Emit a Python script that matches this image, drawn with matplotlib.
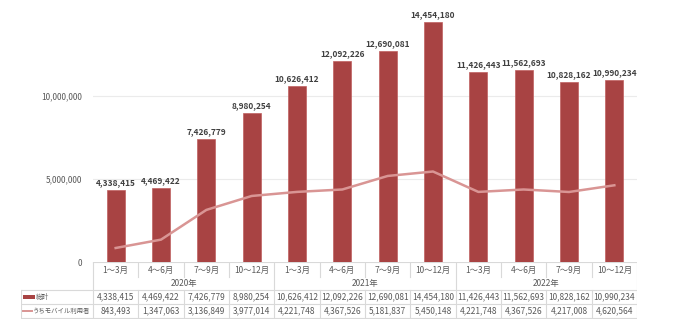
import matplotlib.pyplot as plt
from matplotlib.patches import Rectangle
from matplotlib.lines import Line2D

plt.rcParams['font.family'] = ['Noto Sans CJK JP', 'DejaVu Sans']

quarters = ['1～3月', '4～6月', '7～9月', '10～12月'] * 3
years = ['2020年', '2021年', '2022年']
total = [4338415, 4469422, 7426779, 8980254,
         10626412, 12092226, 12690081, 14454180,
         11426443, 11562693, 10828162, 10990234]
mobile = [843493, 1347063, 3136849, 3977014,
          4221748, 4367526, 5181837, 5450148,
          4221748, 4367526, 4217008, 4620564]
series_names = ['総計', 'うちモバイル利用者']
yticks = [0, 5000000, 10000000]

BAR = '#A84343'
LINE = '#D99594'
GRID = '#D9D9D9'
TXT = '#595959'

W, H = 675, 328
fig = plt.figure(figsize=(W / 100, H / 100), dpi=100)

# chart area in pixel coords
x0, x1 = 93, 637
y_axis, y_top = 262, 0
ax = fig.add_axes([x0 / W, 1 - y_axis / H, (x1 - x0) / W, (y_axis - y_top) / H])
n = len(total)
xs = list(range(n))
ax.set_xlim(-0.5, n - 0.5)
ax.set_ylim(0, 15.78e6)

ax.bar(xs, total, width=0.4, color=BAR, edgecolor='#C06060', linewidth=0.5, zorder=3)
ax.plot(xs, mobile, color=LINE, lw=1.8, zorder=4)
for x, v in zip(xs, total):
    ax.annotate(f'{v:,}', (x, v), xytext=(0, 2), textcoords='offset points',
                ha='center', va='bottom', fontsize=6, fontweight='bold', color='#404040')

ax.set_yticks(yticks)
ax.set_yticklabels([f'{t:,}' for t in yticks], fontsize=6, color=TXT)
ax.tick_params(axis='y', length=0, pad=8)
ax.set_xticks([])
for t in yticks[1:]:
    ax.axhline(t, color='#EBEBEB', lw=0.8, zorder=1)
for s in ax.spines.values():
    s.set_visible(False)

# data table under the chart, same x scale as the chart
t_left = 21
t_bottom = 319
step = (x1 - x0) / n
tx_left = -0.5 - (x0 - t_left) / step
tab = fig.add_axes([t_left / W, 1 - t_bottom / H, (x1 - t_left) / W, (t_bottom - y_axis) / H])
tab.set_xlim(tx_left, n - 0.5)
tab.set_ylim(t_bottom, y_axis)
tab.axis('off')

r_cat, r_year, r_tot, r_mob, r_end = 262, 277, 290, 304, 318
lc = dict(color=GRID, lw=0.8)
tab.plot([-0.5, n - 0.5], [r_cat, r_cat], **lc)
for y in (r_tot, r_mob, r_end):
    tab.plot([tx_left, n - 0.5], [y, y], **lc)
tab.plot([tx_left, tx_left], [r_tot, r_end], **lc)
for i in range(n + 1):
    xb = i - 0.5
    if i % 4 == 0:
        tab.plot([xb, xb], [r_cat, r_end], **lc)
    else:
        tab.plot([xb, xb], [r_cat, r_year], **lc)
        tab.plot([xb, xb], [r_tot, r_end], **lc)

for i, q in enumerate(quarters):
    tab.text(i, (r_cat + r_year) / 2 + 0.5, q, ha='center', va='center', fontsize=6, color=TXT)
for k, yr in enumerate(years):
    tab.text(4 * k + 1.5, (r_year + r_tot) / 2, yr, ha='center', va='center', fontsize=6, color=TXT)
for i in range(n):
    tab.text(i, (r_tot + r_mob) / 2, f'{total[i]:,}', ha='center', va='center', fontsize=6, color=TXT)
    tab.text(i, (r_mob + r_end) / 2, f'{mobile[i]:,}', ha='center', va='center', fontsize=6, color=TXT)

# legend keys inside the row headers (offsets in pixels from the table's left edge)
def px(p):
    return tx_left + p / step

y_tot = (r_tot + r_mob) / 2
y_mob = (r_mob + r_end) / 2
tab.add_patch(Rectangle((px(2), y_tot - 2), 12 / step, 4, color=BAR, lw=0))
tab.add_line(Line2D([px(2), px(11)], [y_mob, y_mob], color=LINE, lw=1.4))
tab.text(px(15), y_tot, series_names[0], ha='left', va='center', fontsize=4.8, color=TXT)
tab.text(px(12), y_mob, series_names[1], ha='left', va='center', fontsize=4.6, color=TXT)

fig.savefig('out.png', dpi=100)
